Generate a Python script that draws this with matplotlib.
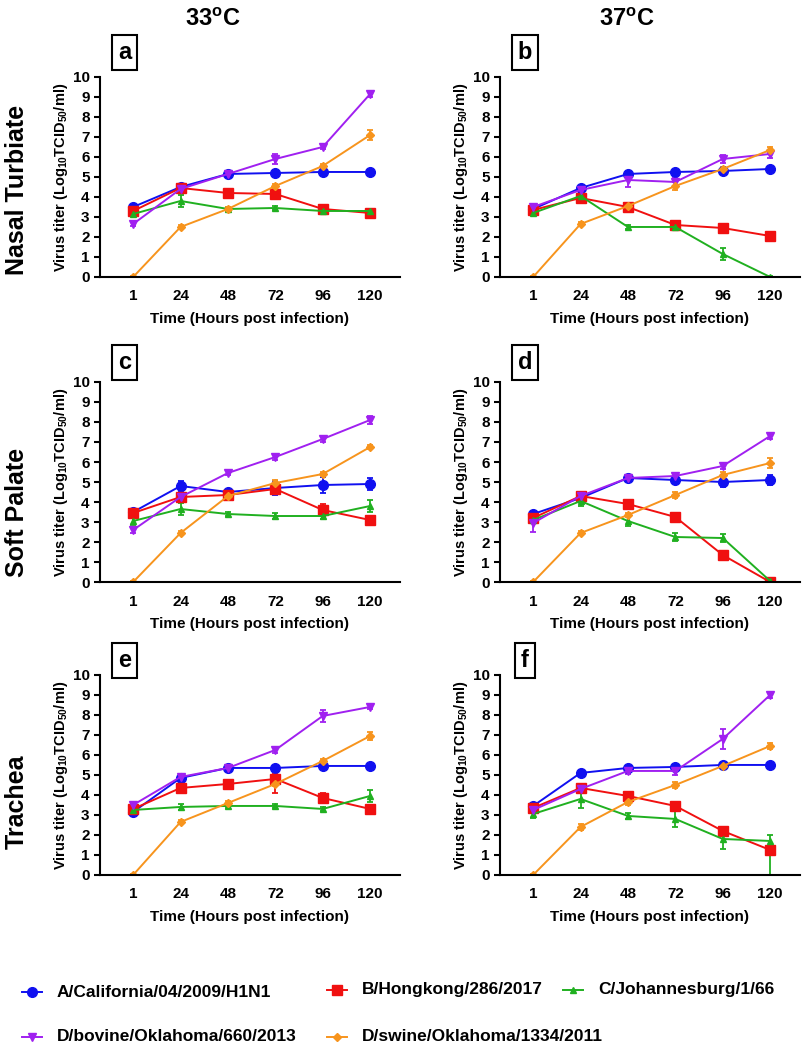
'''
Virus titer over time at 33 and 37 C, three tissues.
'''

import matplotlib
matplotlib.use("Agg")
import matplotlib.pyplot as plt
from matplotlib.lines import Line2D

# Dados
##################################################################
horas = ["1", "24", "48", "72", "96", "120"]

nomes = ["A/California/04/2009/H1N1", "B/Hongkong/286/2017",
         "C/Johannesburg/1/66", "D/bovine/Oklahoma/660/2013",
         "D/swine/Oklahoma/1334/2011"]

# painel a - nasal turbiate 33C
a_A = [3.5, 4.5, 5.15, 5.2, 5.25, 5.25]
a_B = [3.3, 4.45, 4.2, 4.15, 3.4, 3.2]
a_C = [3.15, 3.8, 3.4, 3.45, 3.3, 3.3]
a_Db = [2.65, 4.4, 5.15, 5.9, 6.5, 9.15]
a_Ds = [0, 2.5, 3.4, 4.55, 5.55, 7.1]
a_A_err = [0.1, 0.1, 0.1, 0.1, 0.1, 0.1]
a_B_err = [0.1, 0.1, 0.1, 0.2, 0.1, 0.15]
a_C_err = [0.1, 0.3, 0.1, 0.1, 0.1, 0.1]
a_Db_err = [0.1, 0.1, 0.1, 0.25, 0.1, 0.15]
a_Ds_err = [0.05, 0.1, 0.1, 0.1, 0.1, 0.25]

# painel b - nasal turbiate 37C
b_A = [3.4, 4.45, 5.15, 5.25, 5.3, 5.4]
b_B = [3.35, 3.95, 3.5, 2.6, 2.45, 2.05]
b_C = [3.2, 4.05, 2.5, 2.5, 1.15, 0]
b_Db = [3.5, 4.35, 4.85, 4.75, 5.9, 6.15]
b_Ds = [0, 2.65, 3.55, 4.55, 5.4, 6.35]
b_A_err = [0.1, 0.1, 0.1, 0.1, 0.1, 0.1]
b_B_err = [0.1, 0.2, 0.1, 0.1, 0.1, 0.2]
b_C_err = [0.1, 0.1, 0.1, 0.1, 0.3, 0.05]
b_Db_err = [0.1, 0.1, 0.35, 0.2, 0.2, 0.2]
b_Ds_err = [0.05, 0.1, 0.1, 0.2, 0.1, 0.15]

# painel c - soft palate 33C
c_A = [3.5, 4.8, 4.5, 4.7, 4.85, 4.9]
c_B = [3.45, 4.25, 4.35, 4.65, 3.6, 3.1]
c_C = [3.05, 3.65, 3.4, 3.3, 3.3, 3.8]
c_Db = [2.6, 4.25, 5.45, 6.25, 7.15, 8.1]
c_Ds = [0, 2.45, 4.3, 4.95, 5.4, 6.75]
c_A_err = [0.1, 0.25, 0.1, 0.35, 0.4, 0.3]
c_B_err = [0.1, 0.1, 0.1, 0.1, 0.3, 0.2]
c_C_err = [0.2, 0.3, 0.1, 0.15, 0.15, 0.3]
c_Db_err = [0.15, 0.1, 0.1, 0.15, 0.15, 0.2]
c_Ds_err = [0.05, 0.1, 0.1, 0.15, 0.1, 0.1]

# painel d - soft palate 37C
d_A = [3.4, 4.2, 5.2, 5.1, 5.0, 5.1]
d_B = [3.2, 4.3, 3.9, 3.25, 1.35, 0]
d_C = [3.1, 4.05, 3.05, 2.25, 2.2, 0.05]
d_Db = [2.95, 4.3, 5.2, 5.3, 5.8, 7.3]
d_Ds = [0, 2.45, 3.35, 4.35, 5.35, 5.95]
d_A_err = [0.1, 0.1, 0.1, 0.1, 0.25, 0.25]
d_B_err = [0.1, 0.1, 0.2, 0.1, 0.2, 0.05]
d_C_err = [0.1, 0.25, 0.25, 0.2, 0.2, 0.05]
d_Db_err = [0.45, 0.1, 0.1, 0.1, 0.15, 0.15]
d_Ds_err = [0.05, 0.1, 0.1, 0.15, 0.15, 0.25]

# painel e - trachea 33C
e_A = [3.15, 4.85, 5.35, 5.35, 5.45, 5.45]
e_B = [3.3, 4.35, 4.55, 4.8, 3.85, 3.3]
e_C = [3.25, 3.4, 3.45, 3.45, 3.3, 3.95]
e_Db = [3.5, 4.9, 5.35, 6.25, 7.95, 8.4]
e_Ds = [0, 2.65, 3.6, 4.55, 5.7, 6.95]
e_A_err = [0.1, 0.2, 0.1, 0.1, 0.1, 0.1]
# [abaixo, acima]
e_B_err = [[0.1, 0.15, 0.1, 0.7, 0.25, 0.15],
           [0.1, 0.15, 0.1, 0.25, 0.25, 0.15]]
e_C_err = [0.1, 0.15, 0.1, 0.1, 0.1, 0.3]
e_Db_err = [0.1, 0.1, 0.1, 0.15, 0.3, 0.1]
e_Ds_err = [0.05, 0.1, 0.1, 0.1, 0.1, 0.2]

# painel f - trachea 37C
f_A = [3.45, 5.1, 5.35, 5.4, 5.5, 5.5]
f_B = [3.35, 4.35, 3.95, 3.45, 2.2, 1.25]
f_C = [3.05, 3.8, 2.95, 2.8, 1.8, 1.7]
f_Db = [3.25, 4.3, 5.2, 5.2, 6.8, 9.0]
f_Ds = [0, 2.4, 3.65, 4.5, 5.45, 6.45]
f_A_err = [0.1, 0.15, 0.1, 0.1, 0.1, 0.1]
f_B_err = [0.1, 0.1, 0.15, 0.1, 0.15, 0.2]
# [abaixo, acima]
f_C_err = [[0.2, 0.45, 0.15, 0.4, 0.5, 1.7],
           [0.2, 0.45, 0.15, 0.4, 0.5, 0.3]]
f_Db_err = [0.1, 0.1, 0.15, 0.2, 0.5, 0.15]
f_Ds_err = [0.05, 0.15, 0.15, 0.15, 0.15, 0.15]

paineis = {
    "a": ([a_A, a_B, a_C, a_Db, a_Ds], [a_A_err, a_B_err, a_C_err, a_Db_err, a_Ds_err]),
    "b": ([b_A, b_B, b_C, b_Db, b_Ds], [b_A_err, b_B_err, b_C_err, b_Db_err, b_Ds_err]),
    "c": ([c_A, c_B, c_C, c_Db, c_Ds], [c_A_err, c_B_err, c_C_err, c_Db_err, c_Ds_err]),
    "d": ([d_A, d_B, d_C, d_Db, d_Ds], [d_A_err, d_B_err, d_C_err, d_Db_err, d_Ds_err]),
    "e": ([e_A, e_B, e_C, e_Db, e_Ds], [e_A_err, e_B_err, e_C_err, e_Db_err, e_Ds_err]),
    "f": ([f_A, f_B, f_C, f_Db, f_Ds], [f_A_err, f_B_err, f_C_err, f_Db_err, f_Ds_err]),
}

cores = ["#1010F0", "#F01010", "#20B020", "#A020F0", "#F7941D"]
marcadores = ["o", "s", "^", "v", "D"]
tamanhos = [7, 7, 5, 6, 4]

# Estilo
##################################################################
plt.rcParams["font.family"] = ["Liberation Sans", "DejaVu Sans"]
plt.rcParams["font.weight"] = "bold"
plt.rcParams["mathtext.fontset"] = "custom"
plt.rcParams["mathtext.rm"] = "Liberation Sans:bold"
plt.rcParams["mathtext.default"] = "rm"

fig = plt.figure(figsize=(8.05, 10.5), dpi=100)

# posicoes dos eixos em fracao da figura
esq = [0.1242, 0.6211]
baixo = [0.7362, 0.4457, 0.1667]
larg = 0.3727
alt = 0.1905

letras_x = [0.155, 0.652]
letras_y = [0.950, 0.655, 0.371]

x = list(range(len(horas)))

for k, letra in enumerate(["a", "b", "c", "d", "e", "f"]):
    lin, col = k // 2, k % 2
    ax = fig.add_axes([esq[col], baixo[lin], larg, alt])
    series, erros = paineis[letra]
    for s in range(5):
        ax.errorbar(x, series[s], yerr=erros[s], color=cores[s],
                    marker=marcadores[s], markersize=tamanhos[s],
                    linewidth=1.4, elinewidth=1.3, capsize=2.5,
                    capthick=1.3)
    ax.set_xlim(-0.7, 5.63)
    ax.set_ylim(0, 10)
    ax.set_yticks(range(0, 11))
    ax.set_xticks(x)
    ax.set_xticklabels(horas)
    ax.spines["top"].set_visible(False)
    ax.spines["right"].set_visible(False)
    ax.spines["left"].set_linewidth(1.5)
    ax.spines["bottom"].set_linewidth(1.5)
    ax.tick_params(axis="both", labelsize=11, width=1.5, length=4)
    ax.tick_params(axis="x", length=0, pad=9)
    for t in ax.get_xticklabels() + ax.get_yticklabels():
        t.set_fontweight("bold")
    ax.set_xlabel("Time (Hours post infection)", fontsize=11,
                  fontweight="bold", labelpad=6)
    ax.set_ylabel("Virus titer (Log$_{10}$TCID$_{50}$/ml)", fontsize=10.5,
                  fontweight="bold", labelpad=2)
    fig.text(letras_x[col], letras_y[lin], letra, fontsize=17,
             fontweight="bold", ha="center", va="center",
             bbox=dict(boxstyle="square,pad=0.25", facecolor="white",
                       edgecolor="black", linewidth=1.5))

# Titulos
##################################################################
fig.text(0.265, 0.981, "33$^{\\mathregular{o}}$C", fontsize=17,
         fontweight="bold", ha="center", va="center")
fig.text(0.779, 0.981, "37$^{\\mathregular{o}}$C", fontsize=17,
         fontweight="bold", ha="center", va="center")

fig.text(0.021, 0.819, "Nasal Turbiate", fontsize=18, fontweight="bold",
         rotation=90, ha="center", va="center")
fig.text(0.021, 0.512, "Soft Palate", fontsize=18, fontweight="bold",
         rotation=90, ha="center", va="center")
fig.text(0.021, 0.236, "Trachea", fontsize=18, fontweight="bold",
         rotation=90, ha="center", va="center")

# Legenda (posicionada a mao)
##################################################################
leg_x = [0.0398, 0.4186, 0.7118, 0.0398, 0.4186]
leg_y = [0.0552, 0.0575, 0.0575, 0.0124, 0.0124]
for s in range(5):
    fig.add_artist(Line2D([leg_x[s] - 0.0124, leg_x[s] + 0.0124],
                          [leg_y[s], leg_y[s]],
                          transform=fig.transFigure, color=cores[s],
                          linewidth=1.4))
    fig.add_artist(Line2D([leg_x[s]], [leg_y[s]],
                          transform=fig.transFigure, color=cores[s],
                          marker=marcadores[s], markersize=tamanhos[s],
                          linestyle="none"))
    fig.text(leg_x[s] + 0.031, leg_y[s], nomes[s], fontsize=12.5,
             fontweight="bold", ha="left", va="center")

fig.savefig("out.png", dpi=100)
